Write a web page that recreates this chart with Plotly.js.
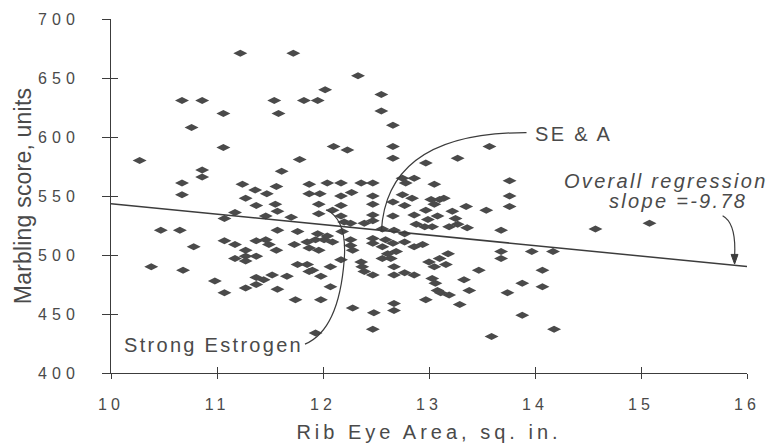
<!DOCTYPE html>
<html>
<head>
<meta charset="utf-8">
<script src="https://cdn.plot.ly/plotly-3.0.1.min.js"></script>
<style>
  html, body { margin:0; padding:0; background:#fff; }
  #chart { width:771px; height:446px; }
  .ytick text { letter-spacing: 5px; }
  .xtick text { letter-spacing: 4px; }
  .g-xtitle text { letter-spacing: 4px; }
  .g-ytitle text { letter-spacing: 0.2px; }
  .annotation-text { letter-spacing: 2.3px; }
</style>
</head>
<body>
<div id="chart"></div>
<script>
// Rib eye area (sq. in.) and marbling score (units)
const ribEye = [
  11.22,10.67,10.86,11.06,10.76,11.06,10.27,10.86,10.86,10.67,10.67,11.24,11.36,11.27,
  11.37,11.17,11.07,10.47,10.65,10.78,11.07,11.17,11.27,11.37,11.17,11.27,11.27,11.37,
  10.38,10.68,10.98,11.37,11.37,11.07,11.27,
  11.72,12.33,12.55,12.55,11.54,11.58,11.82,11.95,12.02,12.10,12.23,11.78,11.61,11.56,
  11.47,11.87,11.87,11.97,12.04,12.17,12.36,12.47,12.17,12.27,12.47,
  11.55,11.57,11.46,11.70,11.96,12.17,12.09,11.96,12.17,12.20,12.26,12.18,12.47,12.47,
  12.39,12.47,11.57,11.76,11.95,11.93,12.01,12.04,11.85,11.87,11.96,12.09,11.46,11.49,
  11.56,11.73,12.26,12.28,12.26,12.47,12.47,12.56,12.17,11.76,11.85,11.87,11.90,11.98,
  12.07,11.66,11.52,11.44,11.57,12.07,12.36,12.39,12.47,12.37,11.74,11.98,12.28,12.48,
  12.47,11.93,
  12.66,12.66,12.66,13.57,13.27,12.97,12.75,12.86,12.78,13.05,13.76,13.76,13.76,12.75,
  12.84,12.66,12.77,13.02,13.10,13.14,13.05,13.35,13.54,12.97,12.86,12.99,12.88,12.96,
  13.03,12.66,13.08,13.22,13.25,13.19,13.27,13.36,13.68,12.56,12.67,12.77,12.59,12.56,
  12.66,12.61,12.69,12.64,12.77,12.86,12.94,13.18,13.10,13.16,13.00,13.05,12.67,12.67,
  12.77,12.86,13.47,13.68,13.68,13.03,13.06,13.08,13.11,13.19,13.33,13.38,13.74,12.97,
  13.29,12.67,12.67,13.59,
  14.57,15.08,13.97,14.17,14.07,13.88,14.07,13.88,14.18
];
const marbling = [
  671,631,631,620,608,591,580,572,566,561,551,560,555,548,
  542,536,531,521,521,507,512,509,504,512,497,499,495,499,
  490,487,478,481,475,468,472,
  671,652,636,622,631,620,631,631,640,592,589,581,571,558,
  552,560,552,552,561,561,561,561,550,553,550,
  543,537,533,532,543,542,538,535,533,528,527,520,543,534,
  527,529,521,520,518,513,513,516,511,506,504,511,513,509,
  504,509,513,504,508,514,510,497,496,492,492,486,487,482,
  490,482,483,479,471,473,494,486,483,490,462,462,455,451,
  437,434,
  610,592,582,592,582,578,565,565,561,560,563,550,541,551,
  548,545,542,547,547,548,543,541,538,538,534,530,526,524,
  524,533,533,537,531,524,526,523,521,522,521,518,513,507,
  510,501,503,497,511,507,509,501,497,492,494,490,490,483,
  485,483,487,503,497,480,476,470,468,466,479,470,468,462,
  458,459,453,431,
  522,527,503,503,487,476,473,449,437
];

// Overall regression line end points
const regX = [10, 16];
const regY = [543.5, 490.2];

// Axis ticks
const xTicks = [10, 11, 12, 13, 14, 15, 16];
const yTicks = [400, 450, 500, 550, 600, 650, 700];

// Label texts
const xTitle = 'Rib Eye Area, sq. in.';
const yTitle = 'Marbling score, units';
const labelSEA = 'SE & A';
const labelEstrogen = 'Strong Estrogen';
const labelOverall = 'Overall regression';
const labelSlope = 'slope =-9.78';

const ink = '#4a4a4a';
const lineInk = '#3c3c3c';
const font = 'Liberation Sans, Arial, sans-serif';

const traces = [
  {
    type: 'scatter', mode: 'markers', x: ribEye, y: marbling,
    marker: { symbol: 'diamond-wide', size: 10, color: '#4a4a4a', line: { width: 0 } },
    hoverinfo: 'skip', showlegend: false
  },
  {
    type: 'scatter', mode: 'lines', x: regX, y: regY,
    line: { color: lineInk, width: 1.5 }, hoverinfo: 'skip', showlegend: false
  },
  {
    type: 'scatter', mode: 'markers', x: [10], y: [400], xaxis: 'x2', yaxis: 'y2',
    marker: { opacity: 0 }, showlegend: false, hoverinfo: 'skip'
  }
];

const axisCommon = {
  showgrid: false, zeroline: false, tickmode: 'array',
  tickcolor: lineInk, tickwidth: 1
};

const layout = {
  width: 771, height: 446,
  margin: { l: 111, r: 24, t: 19, b: 73 },
  paper_bgcolor: '#ffffff', plot_bgcolor: '#ffffff',
  font: { family: font, color: ink },
  showlegend: false,
  xaxis: Object.assign({}, axisCommon, {
    range: [10, 16], tickvals: xTicks, ticktext: xTicks.map(String),
    ticks: 'outside', ticklen: 5,
    showline: true, linecolor: lineInk, linewidth: 1,
    tickfont: { size: 16, color: ink, family: font },
    ticklabelstandoff: 12,
    title: { text: xTitle, font: { size: 20, color: ink, family: font }, standoff: 12 }
  }),
  yaxis: Object.assign({}, axisCommon, {
    range: [400, 700], tickvals: yTicks, ticktext: yTicks.map(String),
    ticks: 'outside', ticklen: 8,
    showline: true, linecolor: lineInk, linewidth: 1,
    tickfont: { size: 16, color: ink, family: font },
    ticklabelstandoff: 19,
    title: { text: yTitle, font: { size: 23, color: ink, family: font }, standoff: 0 }
  }),
  xaxis2: Object.assign({}, axisCommon, {
    range: [10, 16], tickvals: xTicks, overlaying: 'x', anchor: 'y2', side: 'bottom',
    ticks: 'inside', ticklen: 6, showticklabels: false, showline: false
  }),
  yaxis2: Object.assign({}, axisCommon, {
    range: [400, 700], tickvals: yTicks, overlaying: 'y', anchor: 'x2', side: 'left',
    ticks: 'inside', ticklen: 7, showticklabels: false, showline: false
  }),
  shapes: [
    { type: 'path', xref: 'x', yref: 'y', path: 'M 13.92,603.7 Q 12.6,604 12.55,519.7',
      line: { color: lineInk, width: 1.2 } },
    { type: 'path', xref: 'x', yref: 'y',
      path: 'M 11.83,424.5 Q 12.15,436.5 12.20,495.9 Q 12.23,530 12.03,538.4',
      line: { color: lineInk, width: 1.2 } },
    { type: 'path', xref: 'x', yref: 'y', path: 'M 15.77,533.3 Q 15.90,527 15.883,499',
      line: { color: lineInk, width: 1.2 } },
    { type: 'path', xref: 'x', yref: 'y', path: 'M 15.85,500.5 L 15.915,500.5 L 15.883,492.3 Z',
      fillcolor: lineInk, line: { color: lineInk, width: 1 } }
  ],
  annotations: [
    { x: 13.98, y: 602.5, xref: 'x', yref: 'y', text: labelSEA, showarrow: false,
      xanchor: 'left', yanchor: 'middle', font: { size: 20, color: ink, family: font } },
    { x: 10.10, y: 423.8, xref: 'x', yref: 'y', text: labelEstrogen, showarrow: false,
      xanchor: 'left', yanchor: 'middle', font: { size: 20, color: ink, family: font } },
    { x: 15.235, y: 562.5, xref: 'x', yref: 'y', text: '<i>' + labelOverall + '</i>', showarrow: false,
      xanchor: 'center', yanchor: 'middle', font: { size: 20, color: ink, family: font } },
    { x: 15.35, y: 546.0, xref: 'x', yref: 'y', text: '<i>' + labelSlope + '</i>', showarrow: false,
      xanchor: 'center', yanchor: 'middle', font: { size: 20, color: ink, family: font } }
  ]
};

Plotly.newPlot('chart', traces, layout, { displayModeBar: false, staticPlot: true });
</script>
</body>
</html>
